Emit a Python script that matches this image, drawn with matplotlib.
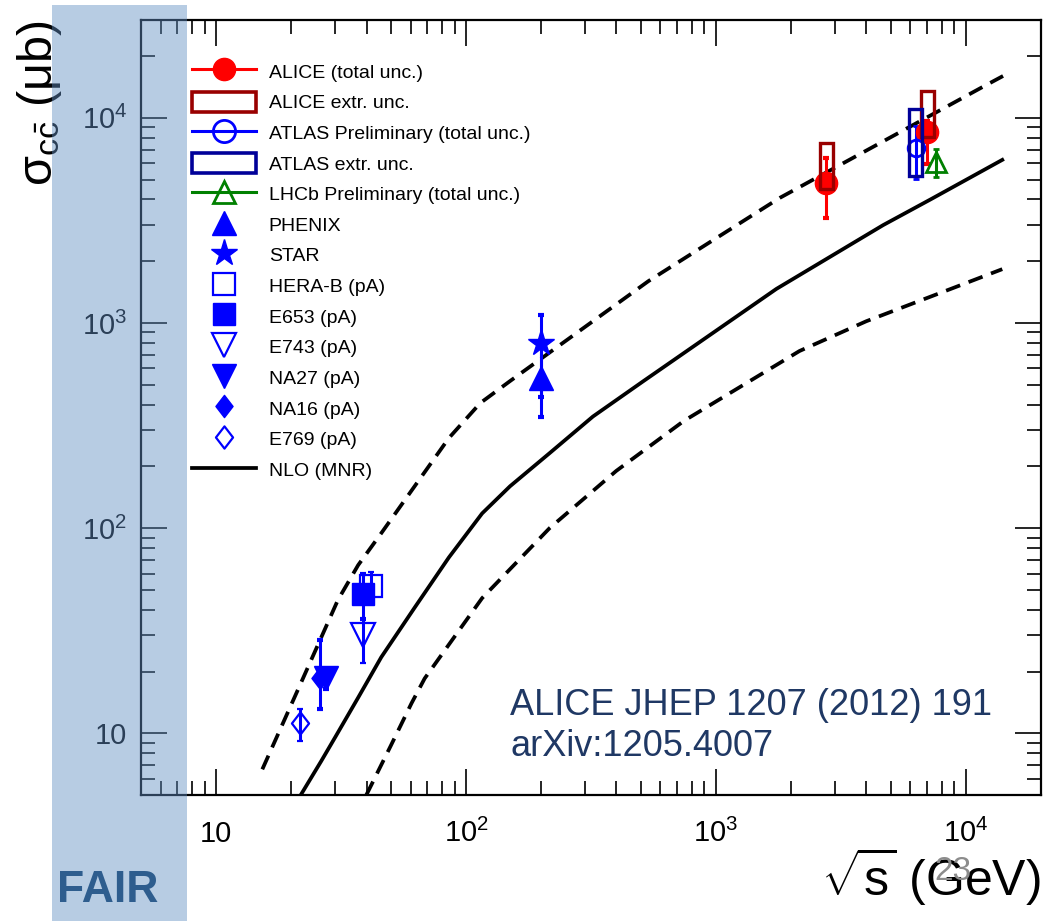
import math
import matplotlib
matplotlib.use('Agg')
import matplotlib.pyplot as plt
from matplotlib.lines import Line2D
from matplotlib.patches import Patch, Rectangle
from matplotlib.path import Path
from matplotlib.ticker import LogLocator, FuncFormatter, NullFormatter

plt.rcParams['font.family'] = ['Liberation Sans', 'DejaVu Sans']
plt.rcParams['mathtext.fontset'] = 'custom'
plt.rcParams['mathtext.rm'] = 'Liberation Sans'
plt.rcParams['mathtext.it'] = 'Liberation Sans:italic'
plt.rcParams['mathtext.bf'] = 'Liberation Sans:bold'

# NLO (MNR) central value and uncertainty band; sqrt(s) in GeV, sigma in ub
nlo_x = [21.8, 26.3, 30, 37.1, 45.8, 62.3, 85.4, 116, 150, 216, 322, 513, 1746, 4670, 7220, 14000]
nlo_y = [5.0, 7.3, 9.6, 15.0, 23.5, 41, 72, 118, 160, 232, 350, 521, 1466, 3000, 4000, 6240]
nlo_hi_x = [15.3, 21.8, 30.7, 37, 45.8, 85.4, 114, 150, 537, 1800, 11500, 14100]
nlo_hi_y = [6.67, 17.5, 44.6, 66, 94.5, 275, 407, 521, 1600, 4070, 14000, 16000]
nlo_lo_x = [39.9, 50, 60.5, 68.3, 116, 216, 399, 744, 2160, 4000, 8710, 14000]
nlo_lo_y = [5.0, 8.7, 14.0, 18.5, 45.6, 100, 190, 333, 730, 1020, 1466, 1830]

# ALICE
alice_x = [2760, 7000]
alice_y = [4800, 8500]
alice_lo = [1550, 2530]
alice_hi = [1600, 1200]
alice_ext_lo = [4500, 8100]
alice_ext_hi = [7500, 13500]
# ATLAS preliminary
atlas_x = [6300]
atlas_y = [7130]
atlas_lo = [2100]
atlas_hi = [2000]
atlas_ext_lo = [5200]
atlas_ext_hi = [11000]
# LHCb preliminary
lhcb_x = [7600]
lhcb_y = [6100]
lhcb_err = [930]
# RHIC
phenix_x, phenix_y, phenix_lo, phenix_hi = [200], [540], [190], [230]
star_x, star_y, star_lo, star_hi = [200], [797], [360], [295]
# fixed target pA
herab_x, herab_y, herab_err = [41.6], [52], [9]
e653_x, e653_y, e653_err = [38.8], [48], [12]
e743_x, e743_y, e743_lo, e743_hi = [38.8], [30], [8], [6]
na27_x, na27_y, na27_err = [27.4], [18.5], [2]
na16_x, na16_y, na16_lo, na16_hi = [26.0], [18.5], [5.3], [10]
e769_x, e769_y, e769_lo, e769_hi = [21.7], [11.2], [2], [2]

labels = ['ALICE (total unc.)', 'ALICE extr. unc.', 'ATLAS Preliminary (total unc.)',
          'ATLAS extr. unc.', 'LHCb Preliminary (total unc.)', 'PHENIX', 'STAR',
          'HERA-B (pA)', 'E653 (pA)', 'E743 (pA)', 'NA27 (pA)', 'NA16 (pA)',
          'E769 (pA)', 'NLO (MNR)']

RED = '#ff0000'
DRED = '#990000'
BLUE = '#0000ff'
DBLUE = '#000099'
GREEN = '#008000'

diamond = Path([(0, 1), (0.77, 0), (0, -1), (-0.77, 0), (0, 1)],
               [Path.MOVETO, Path.LINETO, Path.LINETO, Path.LINETO, Path.CLOSEPOLY])

fig = plt.figure(figsize=(10.48, 9.21), dpi=100)
ax = fig.add_axes([0.1345, 0.1368, 0.8588, 0.8415])
ax.set_xscale('log')
ax.set_yscale('log')

dash = (0, (4, 2.4))
ax.plot(nlo_x, nlo_y, color='k', lw=2.7)
ax.plot(nlo_hi_x, nlo_hi_y, color='k', lw=2.7, ls=dash)
ax.plot(nlo_lo_x, nlo_lo_y, color='k', lw=2.7, ls=dash)

eb = dict(elinewidth=2.2, capsize=2.5, capthick=3, ls='none')


def ext_box(x, lo, hi, col):
    f = 1.062
    for xi, l, h in zip(x, lo, hi):
        ax.add_patch(Rectangle((xi / f, l), xi * f - xi / f, h - l, fill=False,
                               ec=col, lw=2.4, zorder=4))


ax.errorbar(alice_x, alice_y, yerr=[alice_lo, alice_hi], marker='o', ms=16,
            color=RED, zorder=3, **eb)
ext_box(alice_x, alice_ext_lo, alice_ext_hi, DRED)
ax.errorbar(atlas_x, atlas_y, yerr=[atlas_lo, atlas_hi], marker='o', ms=12,
            mfc='none', mew=2, color=BLUE, zorder=3, **eb)
ext_box(atlas_x, atlas_ext_lo, atlas_ext_hi, DBLUE)
ax.errorbar(lhcb_x, lhcb_y, yerr=lhcb_err, marker='^', ms=15, mfc='none', mew=2,
            color=GREEN, zorder=3, **eb)
ax.errorbar(phenix_x, phenix_y, yerr=[phenix_lo, phenix_hi], marker='^', ms=17,
            color=BLUE, **eb)
ax.errorbar(star_x, star_y, yerr=[star_lo, star_hi], marker='*', ms=20,
            color=BLUE, **eb)
ax.errorbar(herab_x, herab_y, yerr=herab_err, marker='s', ms=16, mfc='none',
            mew=1.6, color=BLUE, **eb)
ax.errorbar(e653_x, e653_y, yerr=e653_err, marker='s', ms=16, color=BLUE, **eb)
ax.errorbar(e743_x, e743_y, yerr=[e743_lo, e743_hi], marker='v', ms=17,
            mfc='none', mew=1.6, color=BLUE, **eb)
ax.errorbar(na27_x, na27_y, yerr=na27_err, marker='v', ms=17, color=BLUE, **eb)
ax.errorbar(na16_x, na16_y, yerr=[na16_lo, na16_hi], marker=diamond, ms=16,
            color=BLUE, **eb)
ax.errorbar(e769_x, e769_y, yerr=[e769_lo, e769_hi], marker=diamond, ms=16,
            mfc='none', mew=1.6, color=BLUE, **eb)

ax.set_xlim(5, 2e4)
ax.set_ylim(5, 3e4)


def fmt(v, pos):
    e = int(round(math.log10(v)))
    return '10' if e == 1 else r'$10^{%d}$' % e


for a in (ax.xaxis, ax.yaxis):
    a.set_major_locator(LogLocator(base=10, numticks=10))
    a.set_minor_locator(LogLocator(base=10, subs=range(2, 10), numticks=50))
    a.set_major_formatter(FuncFormatter(fmt))
    a.set_minor_formatter(NullFormatter())

ax.tick_params(which='both', direction='in', top=True, right=True, width=1.2,
               labelsize=21)
ax.tick_params(which='major', length=19)
ax.tick_params(which='minor', length=10)
ax.tick_params(axis='x', pad=34)
ax.tick_params(axis='y', pad=10)
for t in ax.xaxis.get_major_ticks():
    t.label1.set_va('baseline')
for s in ax.spines.values():
    s.set_linewidth(1.6)

ax.set_xlabel(r'$\sqrt{\mathrm{s}}$ (GeV)', fontsize=36, loc='right')
ax.xaxis.set_label_coords(1.0, -0.065)
ax.set_ylabel(r'σ$_{\mathrm{c\bar{c}}}$ (μb)', fontsize=35, loc='top')
ax.yaxis.set_label_coords(-0.085, 1.0)

handles = [
    Line2D([], [], color=RED, marker='o', ms=16, lw=2.2),
    Patch(facecolor='none', edgecolor=DRED, lw=2.6),
    Line2D([], [], color=BLUE, marker='o', ms=16, mfc='none', mew=2, lw=2.2),
    Patch(facecolor='none', edgecolor=DBLUE, lw=2.6),
    Line2D([], [], color=GREEN, marker='^', ms=16, mfc='none', mew=2, lw=2.2),
    Line2D([], [], color=BLUE, marker='^', ms=17, ls='none'),
    Line2D([], [], color=BLUE, marker='*', ms=20, ls='none'),
    Line2D([], [], color=BLUE, marker='s', ms=16, mfc='none', mew=1.6, ls='none'),
    Line2D([], [], color=BLUE, marker='s', ms=16, ls='none'),
    Line2D([], [], color=BLUE, marker='v', ms=17, mfc='none', mew=1.6, ls='none'),
    Line2D([], [], color=BLUE, marker='v', ms=17, ls='none'),
    Line2D([], [], color=BLUE, marker=diamond, ms=16, ls='none'),
    Line2D([], [], color=BLUE, marker=diamond, ms=16, mfc='none', mew=1.6, ls='none'),
    Line2D([], [], color='k', lw=2.7),
]
ax.legend(handles, labels, loc='upper left', bbox_to_anchor=(0.0567, 0.947),
          frameon=False, fontsize=14, borderpad=0, borderaxespad=0,
          handlelength=3.3, handleheight=1.2, handletextpad=0.65,
          labelspacing=0.52, numpoints=1)

fig.text(510 / 1048, 1 - 705 / 921, 'ALICE JHEP 1207 (2012) 191', fontsize=26,
         color='#1f3864', va='center')
fig.text(510 / 1048, 1 - 746 / 921, 'arXiv:1205.4007', fontsize=26,
         color='#1f3864', va='center')
fig.text(953 / 1048, 1 - 871 / 921, '23', fontsize=24, color='#8c8c8c',
         ha='center', va='center')

# FAIR energy range shading over the left edge
fig.add_artist(Rectangle((52 / 1048, 0), 135 / 1048, 1 - 5 / 921,
                         transform=fig.transFigure, color='#618ec3', alpha=0.45,
                         lw=0, zorder=10))
fig.text(108 / 1048, 1 - 890 / 921, 'FAIR', fontsize=32, weight='bold',
         color='#2e5d8e', ha='center', va='center', zorder=11)

fig.savefig('out.png', dpi=100)
